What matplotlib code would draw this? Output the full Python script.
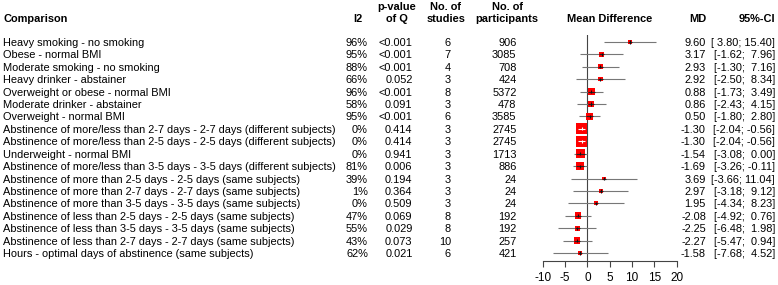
import matplotlib
matplotlib.use("Agg")
import matplotlib.pyplot as plt
import matplotlib.transforms as mtransforms
import numpy as np

plt.rcParams["font.family"] = ["Liberation Sans", "DejaVu Sans"]
plt.rcParams["axes.unicode_minus"] = False

comparisons = [
    "Heavy smoking - no smoking",
    "Obese - normal BMI",
    "Moderate smoking - no smoking",
    "Heavy drinker - abstainer",
    "Overweight or obese - normal BMI",
    "Moderate drinker - abstainer",
    "Overweight - normal BMI",
    "Abstinence of more/less than 2-7 days - 2-7 days (different subjects)",
    "Abstinence of more/less than 2-5 days - 2-5 days (different subjects)",
    "Underweight - normal BMI",
    "Abstinence of more/less than 3-5 days - 3-5 days (different subjects)",
    "Abstinence of more than 2-5 days - 2-5 days (same subjects)",
    "Abstinence of more than 2-7 days - 2-7 days (same subjects)",
    "Abstinence of more than 3-5 days - 3-5 days (same subjects)",
    "Abstinence of less than 2-5 days - 2-5 days (same subjects)",
    "Abstinence of less than 3-5 days - 3-5 days (same subjects)",
    "Abstinence of less than 2-7 days - 2-7 days (same subjects)",
    "Hours - optimal days of abstinence (same subjects)",
]
i2 = [96, 95, 88, 66, 96, 58, 95, 0, 0, 0, 81, 39, 1, 0, 47, 55, 43, 62]
p_q = ["<0.001", "<0.001", "<0.001", "0.052", "<0.001", "0.091", "<0.001",
       "0.414", "0.414", "0.941", "0.006", "0.194", "0.364", "0.509",
       "0.069", "0.029", "0.073", "0.021"]
n_studies = [6, 7, 4, 3, 8, 3, 6, 3, 3, 3, 3, 3, 3, 3, 8, 8, 10, 6]
n_participants = [906, 3085, 708, 424, 5372, 478, 3585, 2745, 2745, 1713,
                  886, 24, 24, 24, 192, 192, 257, 421]
md = [9.60, 3.17, 2.93, 2.92, 0.88, 0.86, 0.50, -1.30, -1.30, -1.54, -1.69,
      3.69, 2.97, 1.95, -2.08, -2.25, -2.27, -1.58]
ci_low = [3.80, -1.62, -1.30, -2.50, -1.73, -2.43, -1.80, -2.04, -2.04,
          -3.08, -3.26, -3.66, -3.18, -4.34, -4.92, -6.48, -5.47, -7.68]
ci_high = [15.40, 7.96, 7.16, 8.34, 3.49, 4.15, 2.80, -0.56, -0.56, 0.00,
           -0.11, 11.04, 9.12, 8.23, 0.76, 1.98, 0.94, 4.52]
x_ticks = [-10, -5, 0, 5, 10, 15, 20]

W, H = 778, 285
FS = 7.9
row0, dy = 42.0, 12.41     # pixel centre of first row, row spacing
top_px, axis_px = 35.0, 260.5
x_left, x_right = 542.7, 676.7

fig = plt.figure(figsize=(W / 100, H / 100), dpi=100)
ax = fig.add_axes([x_left / W, 1 - axis_px / H, (x_right - x_left) / W,
                   (axis_px - top_px) / H])
ax.set_xlim(x_ticks[0], x_ticks[-1])
ax.set_ylim((axis_px - row0) / dy, (top_px - row0) / dy)
for s in ["top", "left", "right"]:
    ax.spines[s].set_visible(False)
ax.spines["bottom"].set_color("#444444")
ax.spines["bottom"].set_linewidth(0.8)
ax.set_yticks([])
ax.set_xticks(x_ticks)
ax.tick_params(axis="x", direction="out", length=4.3, width=0.8,
               color="#444444", labelsize=FS + 0.6, pad=4)
ax.patch.set_visible(False)

ax.axvline(0, color="#444444", lw=0.8, zorder=1)

y = np.arange(len(md))
lo = np.array(ci_low)
hi = np.array(ci_high)
m = np.array(md)

# square size from inverse-variance weight
se = (hi - lo) / (2 * 1.96)
w = 1 / se ** 2
side = 1.15 * np.clip(6.75 + 1.42 * np.log(w), 2.5, None)   # pixels
px_per_unit = (x_right - x_left) / (x_ticks[-1] - x_ticks[0])

ax.hlines(y, lo, hi, color="#777777", lw=0.8, zorder=2)
ax.scatter(m, y, s=(side * 0.72) ** 2, marker="s", c="#ff0000",
           linewidths=0, zorder=3)
tick_h = 1.6 / dy
for yi, mi, l, h, sd in zip(y, m, lo, hi, side):
    half = sd / 2 / px_per_unit
    if (h - l) * px_per_unit < sd:
        ax.hlines(yi, l, h, color="white", lw=0.8, zorder=4)
        ax.vlines(mi, yi - tick_h, yi + tick_h, color="white", lw=0.8, zorder=4)
    else:
        ax.hlines(yi, max(l, mi - half), min(h, mi + half), color="#222222",
                  lw=0.8, zorder=4)
        ax.vlines(mi, yi - tick_h, yi + tick_h, color="#111111", lw=0.8, zorder=4)

trans = mtransforms.blended_transform_factory(fig.transFigure, ax.transData)


def put(xpx, row, s, ha, bold=False):
    fig.text(xpx / W, row, s, transform=trans, ha=ha, va="center_baseline",
             fontsize=FS, fontweight="bold" if bold else "normal")


h1 = (17.5 - row0) / dy
h0 = (5.5 - row0) / dy
put(3, h1, "Comparison", "left", True)
put(358, h1, "I2", "center", True)
put(397, h0, "p-value", "center", True)
put(397, h1, "of Q", "center", True)
put(446, h0, "No. of", "center", True)
put(446, h1, "studies", "center", True)
put(507, h0, "No. of", "center", True)
put(507, h1, "participants", "center", True)
put(609.7, h1, "Mean Difference", "center", True)
put(706, h1, "MD", "right", True)
put(775, h1, "95%-CI", "right", True)

for i in range(len(md)):
    put(3, i, comparisons[i], "left")
    put(368, i, f"{i2[i]}%", "right")
    put(412.5, i, p_q[i], "right")
    put(451, i, f"{n_studies[i]}", "right")
    put(516.5, i, f"{n_participants[i]}", "right")
    put(706, i, f"{md[i]:.2f}", "right")
    put(775, i, f"[{ci_low[i]:5.2f}; {ci_high[i]:5.2f}]", "right")

fig.savefig("out.png", dpi=100, facecolor="white")
